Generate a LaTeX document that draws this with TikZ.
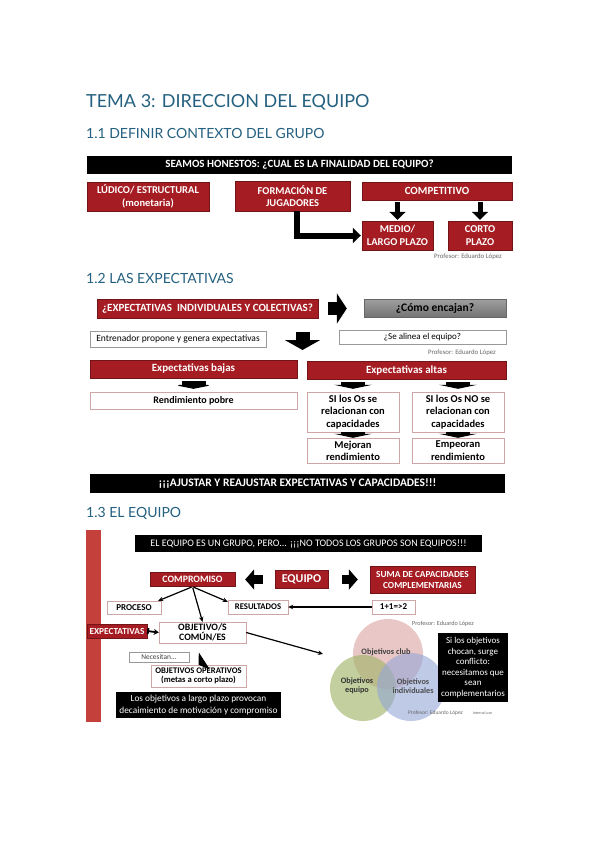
\documentclass[tikz,border=0pt]{standalone}
\usepackage{fontspec}
\setmainfont{Carlito}
\newfontfamily\headfont{Lato}
\usetikzlibrary{arrows.meta}
\definecolor{eq-red}{HTML}{A51C22}
\definecolor{eq-bar}{HTML}{C4403A}
\definecolor{eq-head}{HTML}{24607F}
\definecolor{eq-line}{HTML}{CFA6A6}
\definecolor{eq-club}{HTML}{DDA9A9}
\definecolor{eq-team}{HTML}{A3B56B}
\definecolor{eq-indiv}{HTML}{93A6D6}
\newcommand{\fsz}[2]{\fontsize{#1}{#2}\selectfont}
\tikzset{
  redbox/.style={fill=eq-red, draw=eq-red!70!black, text=white, font=\bfseries, align=center, inner sep=1pt},
  blackbar/.style={fill=black, text=white, align=center, inner sep=1pt},
  whitebox/.style={draw=eq-line, fill=white, align=center, inner sep=1pt},
  heading/.style={text=eq-head, anchor=west, inner sep=0pt},
  signature/.style={inner sep=0pt, text=black!60, font=\fsz{6.8}{7}},
  fatarrow/.style n args={3}{line width=#1, -{Triangle[width=#2, length=#3]}},
  thinarrow/.style={line width=1.2pt, -{Stealth[length=5pt, width=4.5pt]}}
}

\begin{document}
\begin{tikzpicture}[x=1pt, y=-1pt]
    \useasboundingbox (0,0) rectangle (599,848);

    % headings
    \node[heading, font=\headfont\fsz{18}{20}] (tema) at (86,102) {TEMA 3: DIRECCION DEL EQUIPO};
    \node[heading, font=\headfont\fsz{14}{16}] (sec1) at (86,133) {1.1 DEFINIR CONTEXTO DEL GRUPO};
    \node[heading, font=\headfont\fsz{14}{16}] (sec2) at (86,278) {1.2 LAS EXPECTATIVAS};
    \node[heading, font=\headfont\fsz{14}{16}] (sec3) at (86,513) {1.3 EL EQUIPO};

    % 1.1 finalidad del equipo
    \node[blackbar, font=\bfseries\fsz{11}{12}, minimum width=425, minimum height=18] (finalidad) at (299.5,164.5) {SEAMOS HONESTOS: ¿CUAL ES LA FINALIDAD DEL EQUIPO?};
    \node[redbox, font=\bfseries\fsz{10.5}{12.5}, minimum width=122, minimum height=29] (ludico) at (148,196.5) {LÚDICO/ ESTRUCTURAL\\(monetaria)};
    \node[redbox, font=\bfseries\fsz{10.5}{12.5}, minimum width=115, minimum height=30] (formacion) at (292.5,196) {FORMACIÓN DE\\JUGADORES};
    \node[redbox, font=\bfseries\fsz{11}{12}, minimum width=150, minimum height=18] (competitivo) at (437,191) {COMPETITIVO};
    \node[redbox, font=\bfseries\fsz{10.5}{12.5}, minimum width=71, minimum height=29] (medio) at (397.5,235.5) {MEDIO/\\LARGO PLAZO};
    \node[redbox, font=\bfseries\fsz{10.5}{12.5}, minimum width=64, minimum height=29] (corto) at (480,235.5) {CORTO\\PLAZO};
    \draw[fatarrow={5pt}{16pt}{8pt}, shorten <=2pt, shorten >=1pt] (competitivo.south -| medio) -- (medio.north);
    \draw[fatarrow={5pt}{16pt}{8pt}, shorten <=2pt, shorten >=1pt] (competitivo.south -| corto) -- (corto.north);
    \draw[fatarrow={6pt}{15pt}{8pt}, line join=miter, shorten >=1pt] ([xshift=4.5pt]formacion.south) |- (medio.west);
    \node[signature] (firma1) at (468,257) {Profesor: Eduardo López};

    % 1.2 expectativas
    \node[redbox, font=\bfseries\fsz{11}{12}, minimum width=221, minimum height=19] (expind) at (207.5,308.5) {¿EXPECTATIVAS\ \ INDIVIDUALES Y COLECTIVAS?};
    \node[draw=black!60, top color=black!38, bottom color=black!55, font=\bfseries\fsz{11.5}{13}, minimum width=142, minimum height=18, inner sep=1pt] (encajan) at (435,308.5) {¿Cómo encajan?};
    \draw[fatarrow={13pt}{30pt}{10pt}, shorten <=10pt, shorten >=17pt] (expind.east) -- (encajan.west);
    \node[whitebox, draw=black!40, font=\fsz{9.5}{10}, minimum width=176, minimum height=16] (entrenador) at (178,339) {Entrenador propone y genera expectativas};
    \node[whitebox, draw=black!40, font=\fsz{9}{10}, minimum width=167, minimum height=14] (alinea) at (422.5,337) {¿Se alinea el equipo?};
    \coordinate (bajadaA) at (302.5,332);
    \coordinate (bajadaB) at (302.5,350);
    \draw[fatarrow={14pt}{35pt}{10pt}] (bajadaA) -- (bajadaB);
    \node[signature] (firma2) at (462,353) {Profesor: Eduardo López};

    \node[redbox, font=\bfseries\fsz{11}{12}, minimum width=207, minimum height=18] (bajas) at (193.5,369) {Expectativas bajas};
    \node[redbox, font=\bfseries\fsz{11}{12}, minimum width=199, minimum height=18] (altas) at (406.5,370) {Expectativas altas};
    \node[whitebox, font=\bfseries\fsz{10}{11}, minimum width=207, minimum height=17] (pobre) at (193.5,400.5) {Rendimiento pobre};
    \node[whitebox, font=\bfseries\fsz{10.5}{12.5}, minimum width=92, minimum height=40] (sirel) at (353,412) {SI los Os se\\relacionan con\\capacidades};
    \node[whitebox, font=\bfseries\fsz{10.5}{12.5}, minimum width=92, minimum height=40] (norel) at (458,412) {SI los Os NO se\\relacionan con\\capacidades};
    \node[whitebox, font=\bfseries\fsz{10.5}{12.3}, minimum width=92, minimum height=25] (mejoran) at (353,450.5) {Mejoran\\rendimiento};
    \node[whitebox, font=\bfseries\fsz{10.5}{12.3}, minimum width=92, minimum height=25] (empeoran) at (458,450.5) {Empeoran\\rendimiento};
    \draw[fatarrow={24pt}{40pt}{4pt}, shorten <=3pt, shorten >=3pt] (bajas.south) -- (pobre.north);
    \draw[fatarrow={24pt}{38pt}{4pt}, shorten <=3pt, shorten >=3pt] (altas.south -| sirel) -- (sirel.north);
    \draw[fatarrow={24pt}{38pt}{4pt}, shorten <=3pt, shorten >=3pt] (altas.south -| norel) -- (norel.north);
    \draw[fatarrow={24pt}{38pt}{4pt}] (sirel.south) -- (mejoran.north);
    \draw[fatarrow={24pt}{38pt}{4pt}] (norel.south) -- (empeoran.north);
    \node[blackbar, font=\bfseries\fsz{11.5}{12}, minimum width=415, minimum height=19] (ajustar) at (297.5,483.5) {¡¡¡AJUSTAR Y REAJUSTAR EXPECTATIVAS Y CAPACIDADES!!!};

    % 1.3 el equipo
    \fill[eq-bar] (86,530) rectangle (101,722);
    \node[blackbar, font=\fsz{10}{11}, minimum width=347, minimum height=17] (grupo) at (308.5,543.5) {EL EQUIPO ES UN GRUPO, PERO... ¡¡¡NO TODOS LOS GRUPOS SON EQUIPOS!!!};
    \node[redbox, font=\bfseries\fsz{9.8}{11}, minimum width=85, minimum height=14] (compromiso) at (192.5,579.5) {COMPROMISO};
    \node[redbox, font=\bfseries\fsz{12}{13}, minimum width=53, minimum height=18] (equipo) at (301.5,579.5) {EQUIPO};
    \node[redbox, font=\bfseries\fsz{9.3}{11}, minimum width=105, minimum height=27] (suma) at (422.5,579.5) {SUMA DE CAPACIDADES\\COMPLEMENTARIAS};
    \draw[fatarrow={9pt}{20pt}{9pt}, shorten <=12pt, shorten >=10pt] (equipo.west) -- (compromiso.east);
    \draw[fatarrow={9pt}{20pt}{9pt}, shorten <=14pt, shorten >=12pt] (equipo.east) -- (suma.west);

    \node[whitebox, font=\bfseries\fsz{9}{10}, minimum width=54, minimum height=13] (proceso) at (134,607.5) {PROCESO};
    \node[whitebox, font=\bfseries\fsz{8.7}{10}, minimum width=60, minimum height=14] (resultados) at (258,607) {RESULTADOS};
    \node[whitebox, font=\bfseries\fsz{9}{10}, minimum width=43, minimum height=14] (unomas) at (393.5,607) {1+1=>2};
    \node[redbox, font=\bfseries\fsz{9.3}{10}, minimum width=60, minimum height=14] (expectativas) at (117,631) {EXPECTATIVAS};
    \node[whitebox, font=\bfseries\fsz{9.8}{9.5}, minimum width=87, minimum height=21] (objetivo) at (202.5,632.5) {OBJETIVO/S\\COMÚN/ES};
    \draw[thinarrow, shorten <=1pt] (compromiso.south) -- ([xshift=-3pt]proceso.north east);
    \draw[thinarrow, shorten <=1pt] (compromiso.south) -- ([yshift=-2pt]resultados.north west);
    \draw[thinarrow, shorten <=1pt] (compromiso.south) -- (objetivo.north);
    \draw[thinarrow] (unomas.west) -- (resultados.east);
    \draw[line width=1.8pt, {Bar[width=6pt]}-{Stealth[length=5pt, width=6pt]}] (expectativas.east) -- (objetivo.west);

    \node[whitebox, draw=black!40, font=\fsz{7.4}{8}, text=black!75, minimum width=60, minimum height=10] (necesitan) at (159,657) {Necesitan...};
    \node[whitebox, font=\bfseries\fsz{8.6}{9.5}, minimum width=95, minimum height=22] (operativos) at (198.5,676) {OBJETIVOS OPERATIVOS\\(metas a corto plazo)};
    \draw[fatarrow={8pt}{20pt}{7pt}] (objetivo.south) ++(0,19) coordinate (flechaA) (flechaA) -- (operativos.north);
    \node[blackbar, font=\fsz{9.3}{11.5}, minimum width=165, minimum height=26] (largo) at (198.5,705) {Los objetivos a largo plazo provocan\\decaimiento de motivación y compromiso};

    % venn de objetivos
    \coordinate (venn) at (323,654);
    \draw[thinarrow] (objetivo.east) -- (venn);
    \fill[eq-club, fill opacity=0.65] (388,654) circle (35);
    \fill[eq-team, fill opacity=0.65] (363,688) circle (33);
    \fill[eq-indiv, fill opacity=0.6] (411,687) circle (34);
    \node[font=\bfseries\fsz{8.3}{9}, text=black!75, inner sep=0pt] (club) at (386,652) {Objetivos club};
    \node[font=\bfseries\fsz{8.2}{9.5}, text=black!80, align=center, inner sep=0pt] (team) at (357,686) {Objetivos\\equipo};
    \node[font=\bfseries\fsz{8.2}{9.5}, text=black!70, align=center, inner sep=0pt] (indiv) at (413,686) {Objetivos\\individuales};
    \node[blackbar, font=\fsz{9}{10.5}, minimum width=70, minimum height=69] (conflicto) at (473,667.5) {Si los objetivos\\chocan, surge\\conflicto:\\necesitamos que\\sean\\complementarios};
    \node[signature, font=\fsz{6.2}{7}] (firma3) at (443,624) {Profesor: Eduardo López};
    \node[signature, font=\fsz{5.5}{6}] (firma4) at (435.5,713) {Profesor: Eduardo López};
    \node[signature, font=\fsz{4}{4.5}] (uso) at (482.5,713) {Internal use};
\end{tikzpicture}
\end{document}
